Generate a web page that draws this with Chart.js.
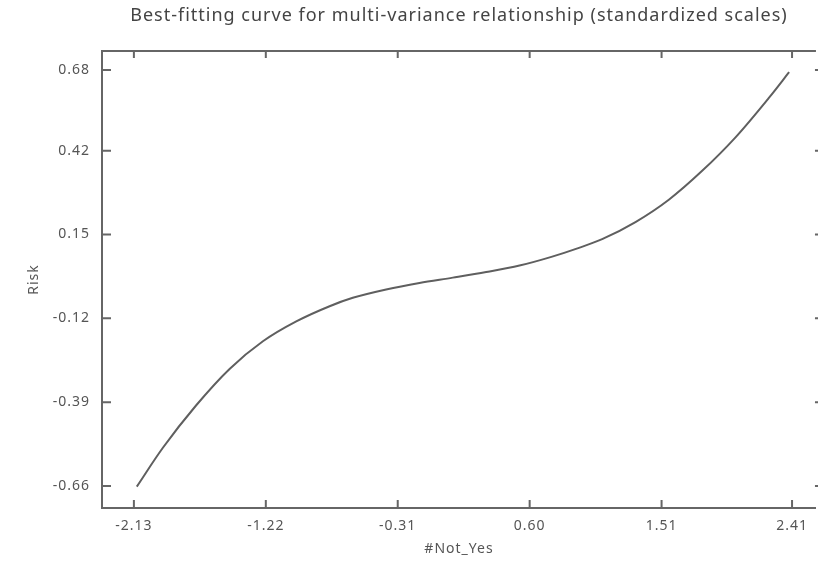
<!DOCTYPE html>
<html>
<head>
<meta charset="utf-8">
<script src="https://cdn.jsdelivr.net/npm/chart.js@4.4.0/dist/chart.umd.min.js"></script>
<style>
  body { margin: 0; background: #fff; overflow: hidden; }
  canvas { display: block; }
</style>
</head>
<body>
<canvas id="curveChart" width="818" height="565"></canvas>
<script>
// fitted curve
const xs = [-2.11, -1.93, -1.70, -1.47, -1.24, -1.01, -0.78, -0.62, -0.39, -0.16, 0.07, 0.30, 0.53, 0.75, 0.94, 1.10, 1.33, 1.56, 1.79, 2.02, 2.25, 2.39];
const ys = [-0.662, -0.537, -0.400, -0.283, -0.194, -0.130, -0.081, -0.054, -0.027, -0.006, 0.011, 0.029, 0.050, 0.078, 0.107, 0.135, 0.190, 0.262, 0.355, 0.463, 0.590, 0.673];
const xTicks = [-2.13, -1.22, -0.31, 0.60, 1.51, 2.41];
const yTicks = [-0.66, -0.39, -0.12, 0.15, 0.42, 0.68];

const axisColor = '#666666';
const fontFamily = '"Noto Sans", "DejaVu Sans", sans-serif';

// wider letters, closer to the original typeface
// (canvas resize wipes ctx state, so set it again before layout and draw)
const spacing = {
  id: 'spacing',
  beforeUpdate(chart) { chart.ctx.letterSpacing = '1px'; },
  beforeDraw(chart) { chart.ctx.letterSpacing = '1px'; }
};

// ticks on all four sides, pointing into the plot
const frameTicks = {
  id: 'frameTicks',
  afterDraw(chart) {
    const ctx = chart.ctx;
    const a = chart.chartArea;
    const x = chart.scales.x;
    const y = chart.scales.y;
    ctx.save();
    ctx.strokeStyle = axisColor;
    ctx.lineWidth = 2;
    // top frame line
    ctx.beginPath();
    ctx.moveTo(a.left - 1, a.top);
    ctx.lineTo(a.right, a.top);
    ctx.stroke();
    ctx.beginPath();
    xTicks.forEach(v => {
      const px = x.getPixelForValue(v);
      ctx.moveTo(px, a.bottom);
      ctx.lineTo(px, a.bottom - 8);
      ctx.moveTo(px, a.top);
      ctx.lineTo(px, a.top + 7);
    });
    yTicks.forEach(v => {
      const py = y.getPixelForValue(v);
      ctx.moveTo(a.left, py);
      ctx.lineTo(a.left + 9, py);
      ctx.moveTo(a.right + 8, py);
      ctx.lineTo(a.right - 1, py);
    });
    ctx.stroke();
    ctx.restore();
  }
};

function renderCurve() {
  const ctx = document.getElementById('curveChart').getContext('2d');
  new Chart(ctx, {
    type: 'scatter',
    data: {
      datasets: [{
        data: xs.map((v, i) => ({ x: v, y: ys[i] })),
        showLine: true,
        borderColor: '#5f5f5f',
        borderWidth: 2,
        pointRadius: 0,
        cubicInterpolationMode: 'monotone',
        fill: false
      }]
    },
    options: {
      responsive: false,
      animation: false,
      layout: { padding: 0 },
      plugins: {
        legend: { display: false },
        tooltip: { enabled: false },
        title: {
          display: true,
          fullSize: false,
          text: 'Best-fitting curve for multi-variance relationship (standardized scales)',
          color: '#444444',
          font: { family: fontFamily, size: 18, weight: 'normal' },
          padding: { top: 5, bottom: 24.4 }
        }
      },
      scales: {
        x: {
          type: 'linear',
          min: -2.35,
          max: 2.575,
          afterFit: s => { s.height = 57; },
          afterBuildTicks: s => { s.ticks = xTicks.map(v => ({ value: v })); },
          grid: { drawOnChartArea: false, drawTicks: false, tickLength: 0 },
          border: { display: true, color: axisColor, width: 2 },
          ticks: {
            padding: 10,
            color: '#555555',
            font: { family: fontFamily, size: 14 },
            maxRotation: 0,
            callback: v => v.toFixed(2)
          },
          title: {
            display: true,
            text: '#Not_Yes',
            color: '#555555',
            font: { family: fontFamily, size: 14 },
            padding: { top: 0, bottom: 8 }
          }
        },
        y: {
          type: 'linear',
          min: -0.731,
          max: 0.741,
          afterFit: s => { s.width = 102; },
          afterBuildTicks: s => { s.ticks = yTicks.map(v => ({ value: v })); },
          grid: { drawOnChartArea: false, drawTicks: false, tickLength: 0 },
          border: { display: true, color: axisColor, width: 2 },
          ticks: {
            padding: 12,
            color: '#555555',
            font: { family: fontFamily, size: 14 },
            callback: v => v.toFixed(2)
          },
          title: {
            display: true,
            text: 'Risk',
            color: '#555555',
            font: { family: fontFamily, size: 14 },
            padding: { top: 26, bottom: 0 }
          }
        }
      }
    },
    plugins: [spacing, frameTicks]
  });
}

window.addEventListener('DOMContentLoaded', () => {
  renderCurve();
});
</script>
</body>
</html>
